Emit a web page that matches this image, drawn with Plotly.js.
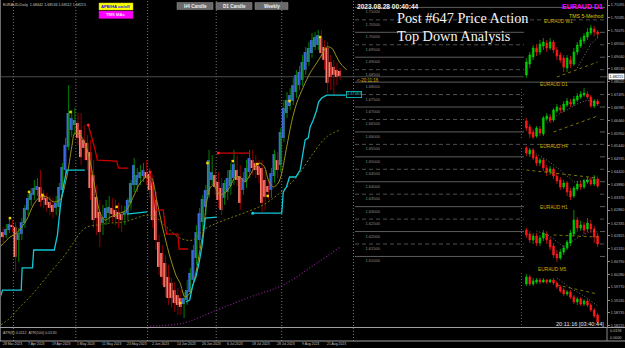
<!DOCTYPE html>
<html><head><meta charset="utf-8">
<script src="https://cdn.plot.ly/plotly-3.0.1.min.js"></script>
<style>html,body{margin:0;padding:0;background:#000;}#chart{width:625px;height:348px;}</style>
</head><body><div id="chart"></div>
<script>
const W = 625, H = 348;
const fx = x => x / W, fy = y => 1 - y / H;

// ---------- main chart (EURAUD Daily, Heikin-Ashi bodies) ----------
const dateLabels = ["28 Mar 2023","7 Apr 2023","19 Apr 2023","1 May 2023","11 May 2023","23 May 2023","2 Jun 2023","14 Jun 2023","26 Jun 2023","6 Jul 2023","18 Jul 2023","28 Jul 2023","9 Aug 2023","21 Aug 2023"];
const dateIdx = [0,8,16,24,32,40,48,56,64,72,80,88,96,104];
const monthSeparators = [3.5,23.5,46.5,68.5,89.5,112.5];

const haOpen = [1.6198,1.6186,1.6206,1.6226,1.6218,1.6166,1.6190,1.6234,1.6287,1.6327,1.6347,1.6367,1.6379,1.6347,1.6335,1.6319,1.6307,1.6295,1.6299,1.6367,1.6447,1.6540,1.6608,1.6628,1.6636,1.6608,1.6568,1.6556,1.6519,1.6427,1.6339,1.6279,1.6234,1.6254,1.6274,1.6295,1.6287,1.6279,1.6270,1.6266,1.6274,1.6315,1.6387,1.6387,1.6415,1.6423,1.6439,1.6431,1.6399,1.6327,1.6158,1.6114,1.6074,1.6018,1.5994,1.5965,1.5945,1.5933,1.5909,1.5925,1.5957,1.6006,1.6094,1.6166,1.6238,1.6299,1.6347,1.6407,1.6427,1.6399,1.6375,1.6335,1.6359,1.6383,1.6415,1.6447,1.6423,1.6367,1.6399,1.6439,1.6487,1.6475,1.6463,1.6455,1.6407,1.6383,1.6367,1.6423,1.6487,1.6467,1.6576,1.6676,1.6704,1.6724,1.6760,1.6788,1.6809,1.6849,1.6881,1.6917,1.6941,1.6949,1.6977,1.6941,1.6937,1.6881,1.6861,1.6849,1.6845];
const haClose = [1.6178,1.6210,1.6230,1.6218,1.6098,1.6194,1.6238,1.6295,1.6335,1.6355,1.6375,1.6383,1.6319,1.6327,1.6307,1.6295,1.6279,1.6315,1.6379,1.6459,1.6548,1.6676,1.6656,1.6648,1.6576,1.6499,1.6536,1.6487,1.6375,1.6246,1.6254,1.6198,1.6258,1.6295,1.6299,1.6270,1.6258,1.6250,1.6246,1.6279,1.6327,1.6395,1.6467,1.6427,1.6439,1.6447,1.6415,1.6367,1.6246,1.6166,1.6058,1.6018,1.5977,1.5933,1.5933,1.5913,1.5905,1.5897,1.5933,1.5965,1.6034,1.6126,1.6198,1.6274,1.6331,1.6367,1.6487,1.6439,1.6379,1.6327,1.6287,1.6395,1.6415,1.6447,1.6471,1.6407,1.6315,1.6415,1.6455,1.6495,1.6455,1.6447,1.6427,1.6315,1.6339,1.6359,1.6435,1.6511,1.6447,1.6600,1.6696,1.6728,1.6748,1.6788,1.6829,1.6841,1.6881,1.6921,1.6937,1.6969,1.6981,1.6989,1.6917,1.6889,1.6797,1.6821,1.6829,1.6821,1.6825];
const barHigh = [1.6218,1.6230,1.6254,1.6246,1.6238,1.6214,1.6254,1.6307,1.6351,1.6375,1.6407,1.6415,1.6447,1.6367,1.6355,1.6343,1.6335,1.6343,1.6395,1.6475,1.6576,1.6788,1.6688,1.6696,1.6676,1.6676,1.6628,1.6588,1.6568,1.6487,1.6387,1.6327,1.6307,1.6327,1.6343,1.6335,1.6327,1.6315,1.6307,1.6303,1.6335,1.6407,1.6495,1.6455,1.6467,1.6475,1.6487,1.6455,1.6427,1.6359,1.6186,1.6146,1.6106,1.6066,1.6014,1.5998,1.5973,1.5965,1.5957,1.6006,1.6054,1.6146,1.6226,1.6295,1.6347,1.6387,1.6528,1.6507,1.6455,1.6439,1.6415,1.6407,1.6447,1.6475,1.6528,1.6507,1.6467,1.6439,1.6487,1.6528,1.6528,1.6507,1.6487,1.6487,1.6447,1.6407,1.6455,1.6528,1.6519,1.6616,1.6728,1.6760,1.6776,1.6817,1.6849,1.6865,1.6909,1.6941,1.6961,1.6997,1.7001,1.7009,1.7009,1.6969,1.6961,1.6909,1.6889,1.6877,1.6857];
const barLow = [1.6158,1.6174,1.6194,1.6198,1.6038,1.6078,1.6166,1.6214,1.6266,1.6303,1.6327,1.6343,1.6299,1.6295,1.6279,1.6266,1.6254,1.6266,1.6279,1.6339,1.6427,1.6527,1.6580,1.6588,1.6548,1.6467,1.6487,1.6447,1.6327,1.6214,1.6186,1.6138,1.6186,1.6226,1.6238,1.6238,1.6226,1.6214,1.6198,1.6226,1.6246,1.6287,1.6359,1.6359,1.6387,1.6399,1.6387,1.6335,1.6214,1.6126,1.6026,1.5986,1.5937,1.5905,1.5897,1.5877,1.5865,1.5865,1.5853,1.5905,1.5933,1.5986,1.6066,1.6134,1.6206,1.6266,1.6335,1.6387,1.6347,1.6295,1.6266,1.6307,1.6327,1.6347,1.6387,1.6383,1.6287,1.6347,1.6375,1.6415,1.6427,1.6415,1.6395,1.6279,1.6287,1.6327,1.6335,1.6395,1.6415,1.6439,1.6560,1.6656,1.6688,1.6708,1.6736,1.6768,1.6784,1.6829,1.6865,1.6897,1.6929,1.6929,1.6897,1.6849,1.6756,1.6768,1.6748,1.6788,1.6809];

// indicator lines (bar index, price)
const cyanX = [-0.7,0,6,6.3,9.6,10,16.6,17.6,18.6,19.6,20.6,26.4,null,39.8,46.3,null,58.8,60,61,62,63,64,65,68.7,null,80.2,89.5,90,91,92,94,95.4,96,97,98,98.6,99.6,100.7,101.3,102.3,103.9,110];
const cyanY = [1.5937,1.5965,1.5965,1.6054,1.6054,1.6126,1.6126,1.6186,1.6307,1.6387,1.6447,1.6447,null,1.6270,1.6279,null,1.5917,1.5925,1.5986,1.6018,1.6074,1.6146,1.6254,1.6258,null,1.6274,1.6274,1.6359,1.6379,1.6419,1.6419,1.6447,1.6499,1.6568,1.6576,1.6620,1.6648,1.6688,1.6720,1.6736,1.6748,1.6748];
const redX = [27.5,28.6,29.7,30.4,36.6,37.2,40.3,null,47.3,48.3,49.1,51.5,52,52.6,56.2,56.6,59.5,null,69.2,79.3];
const redY = [1.6628,1.6580,1.6527,1.6487,1.6483,1.6455,1.6455,null,1.6439,1.6367,1.6287,1.6287,1.6234,1.6190,1.6190,1.6130,1.6130,null,1.6515,1.6515];
const fastMaX = [-0.8,2.4,4.5,7.7,9.9,12,14.2,16.3,18.4,20.6,22.2,23.2,24.8,26.4,28,29.6,31.3,32.9,34.5,37.7,39.8,41.9,44.1,46.2,47.8,49.4,51.5,53.7,55.8,56.9,58.5,60.1,61.7,63.3,64.4,65.4,66.5,67.6,68.6,69.7,71.3,72.9,74.6,76.1,77.7,79.3,80.9,82.5,84,85.2,86.8,88.4,89.5,91.1,92.8,94.3,96.4,98.6,100.7,102.3,103.9,105.5,107.1,108.2,110.3];
const fastMaY = [1.6138,1.6178,1.6194,1.6246,1.6307,1.6339,1.6339,1.6319,1.6327,1.6419,1.6540,1.6596,1.6588,1.6556,1.6487,1.6379,1.6274,1.6246,1.6258,1.6274,1.6287,1.6339,1.6395,1.6419,1.6415,1.6327,1.6206,1.6098,1.6018,1.5994,1.5937,1.5953,1.6018,1.6126,1.6206,1.6315,1.6375,1.6387,1.6367,1.6347,1.6355,1.6379,1.6419,1.6419,1.6399,1.6427,1.6459,1.6475,1.6459,1.6407,1.6379,1.6395,1.6435,1.6540,1.6648,1.6716,1.6780,1.6837,1.6877,1.6909,1.6941,1.6937,1.6901,1.6877,1.6849];
const slowMaX = [-0.5,2.4,5.6,9.9,15.2,19.5,22.7,24.8,27,30.2,34.5,38.7,43,46.2,49.4,52.6,56.9,61,64.3,68.7,72.9,78.3,83.6,88.9,94.3,99.6,103.9,108.2];
const slowMaY = [1.5825,1.5853,1.5897,1.5953,1.6034,1.6098,1.6154,1.6194,1.6218,1.6226,1.6234,1.6238,1.6254,1.6266,1.6254,1.6218,1.6174,1.6166,1.6206,1.6234,1.6254,1.6279,1.6307,1.6355,1.6419,1.6515,1.6580,1.6608];
const longMaX = [47.3,58,68.7,79.3,90,100.8,108.2];
const longMaY = [1.5820,1.5833,1.5885,1.5937,1.5986,1.6074,1.6138];
const fractalX = [2.4,8.5,12.8,21.8,36.6,57,65.7,73.8,81.7,85,92,101.8];
const fractalY = [1.6254,1.6359,1.6347,1.6680,1.6299,1.5913,1.6475,1.6483,1.6471,1.6343,1.6724,1.6981];
const stopDotX = [27.5,47.3,69.2];
const stopDotY = [1.6628,1.6439,1.6515];

const priceTicks = ["1.71095","1.70585","1.70075","1.69550","1.69040","1.68530","1.68020","1.67495","1.66985","1.66460","1.65950","1.65440","1.64935","1.64420","1.63880","1.63370","1.62860","1.62335","1.61825","1.61310","1.60790","1.60280","1.59770","1.59245","1.58735","1.58225"];
const levelLabels = ["1.71000","1.70500","1.70000","1.69500","1.69000","1.68500","1.68000","1.67500","1.67000","1.66500","1.66000","1.65500","1.65000","1.64500","1.64000","1.63500","1.63000","1.62500","1.62000","1.61500","1.61000"];
const bidPrice = 1.68215;
const stopPrice = 1.67483;

// ---------- mini top-down panels ----------
const miniIdx = [0,1,2,3,4,5,6,7,8,9,10,11,12,13,14,15,16,17,18,19,20,21];
const w1O = [1.657,1.668,1.675,1.684,1.680,1.686,1.689,1.684,1.690,1.682,1.677,1.674,1.664,1.672,1.668,1.680,1.686,1.691,1.695,1.699,1.703,1.700];
const w1C = [1.670,1.677,1.684,1.680,1.688,1.690,1.684,1.690,1.682,1.676,1.672,1.665,1.674,1.668,1.680,1.687,1.692,1.696,1.700,1.704,1.700,1.698];
const w1H = [1.674,1.680,1.687,1.688,1.692,1.694,1.692,1.694,1.692,1.685,1.680,1.677,1.677,1.676,1.684,1.690,1.695,1.699,1.704,1.707,1.706,1.702];
const w1L = [1.654,1.664,1.672,1.676,1.677,1.682,1.680,1.682,1.679,1.672,1.669,1.660,1.660,1.664,1.666,1.677,1.684,1.688,1.692,1.697,1.696,1.694];
const d1O = [1.6820,1.6790,1.6765,1.6745,1.6780,1.6755,1.6830,1.6840,1.6825,1.6870,1.6885,1.6875,1.6900,1.6915,1.6905,1.6925,1.6940,1.6950,1.6955,1.6940,1.6895,1.6920];
const d1C = [1.6785,1.6755,1.6740,1.6785,1.6760,1.6835,1.6845,1.6825,1.6875,1.6890,1.6875,1.6905,1.6920,1.6905,1.6930,1.6945,1.6955,1.6960,1.6940,1.6895,1.6920,1.6905];
const d1H = [1.6835,1.6805,1.6780,1.6795,1.6795,1.6845,1.6860,1.6855,1.6885,1.6905,1.6900,1.6920,1.6935,1.6930,1.6945,1.6960,1.6970,1.6985,1.6970,1.6950,1.6930,1.6930];
const d1L = [1.6770,1.6735,1.6730,1.6735,1.6745,1.6745,1.6820,1.6810,1.6815,1.6860,1.6860,1.6865,1.6890,1.6890,1.6895,1.6915,1.6930,1.6940,1.6930,1.6885,1.6885,1.6895];
const h4O = [1.6944,1.6932,1.6940,1.6926,1.6914,1.6920,1.6904,1.6896,1.6902,1.6888,1.6880,1.6866,1.6874,1.6858,1.6848,1.6862,1.6872,1.6866,1.6876,1.6880,1.6872,1.6882];
const h4C = [1.6934,1.6940,1.6924,1.6914,1.6920,1.6904,1.6896,1.6902,1.6888,1.6878,1.6866,1.6874,1.6856,1.6846,1.6864,1.6872,1.6866,1.6878,1.6880,1.6872,1.6882,1.6868];
const h4H = [1.6948,1.6944,1.6944,1.6930,1.6924,1.6924,1.6910,1.6908,1.6906,1.6894,1.6886,1.6880,1.6878,1.6864,1.6868,1.6878,1.6878,1.6882,1.6886,1.6886,1.6890,1.6886];
const h4L = [1.6928,1.6926,1.6920,1.6908,1.6908,1.6898,1.6888,1.6890,1.6882,1.6872,1.6860,1.6862,1.6848,1.6840,1.6844,1.6858,1.6860,1.6862,1.6872,1.6868,1.6868,1.6864];
const h1O = [1.6855,1.6851,1.6845,1.6849,1.6842,1.6847,1.6851,1.6845,1.6839,1.6831,1.6827,1.6833,1.6837,1.6842,1.6851,1.6865,1.6857,1.6860,1.6856,1.6861,1.6856,1.6849];
const h1C = [1.6850,1.6845,1.6849,1.6842,1.6847,1.6852,1.6845,1.6838,1.6830,1.6827,1.6833,1.6837,1.6843,1.6852,1.6865,1.6857,1.6860,1.6855,1.6862,1.6856,1.6848,1.6841];
const h1H = [1.6857,1.6854,1.6852,1.6852,1.6850,1.6855,1.6854,1.6848,1.6842,1.6835,1.6836,1.6840,1.6845,1.6855,1.6875,1.6868,1.6864,1.6863,1.6867,1.6865,1.6859,1.6852];
const h1L = [1.6847,1.6842,1.6841,1.6839,1.6839,1.6844,1.6841,1.6835,1.6827,1.6823,1.6825,1.6830,1.6835,1.6839,1.6849,1.6853,1.6854,1.6851,1.6853,1.6852,1.6842,1.6838];
const m5O = [1.6842,1.68455,1.6842,1.6843,1.6844,1.6843,1.6844,1.6843,1.6844,1.68425,1.68405,1.6839,1.6837,1.6838,1.68355,1.6833,1.68345,1.6832,1.68335,1.68315,1.6829,1.68265];
const m5C = [1.68455,1.6842,1.68435,1.6844,1.6843,1.6844,1.6843,1.6844,1.68425,1.68405,1.68385,1.6837,1.6838,1.68355,1.6833,1.68345,1.6832,1.68335,1.68315,1.6829,1.6826,1.6823];
const m5H = [1.6847,1.68465,1.6845,1.6845,1.6845,1.6845,1.68445,1.68445,1.6845,1.68435,1.68415,1.6840,1.6839,1.6839,1.68365,1.68355,1.68355,1.68345,1.68345,1.68325,1.6830,1.68275];
const m5L = [1.6841,1.6841,1.6841,1.6842,1.6842,1.68425,1.6842,1.68425,1.68415,1.68395,1.68375,1.6836,1.6836,1.68345,1.6832,1.68315,1.6831,1.6831,1.68305,1.6828,1.6825,1.6822];

const miniSlow = {
  w1: {x:[9,21], y:[1.655,1.670]},
  d1: {x:[8,21], y:[1.6765,1.6845]},
  h4: {x:[0,21], y:[1.6900,1.6884]},
  h1: {x:[8,21], y:[1.6850,1.6848]},
  m5: {x:[9,21], y:[1.68415,1.6837]}
};
const miniTrail = {
  w1: {x:[15,17,19,21], y:[1.664,1.676,1.688,1.694]},
  d1: {x:[6,9,12,15,18,21], y:[1.6810,1.6850,1.6875,1.6905,1.6925,1.6910]},
  h4: {x:[2,6,10,14,18,21], y:[1.6936,1.6920,1.6900,1.6876,1.6880,1.6888]},
  h1: {x:[3,7,11,15,19,21], y:[1.6854,1.6849,1.6838,1.6847,1.6854,1.6853]},
  m5: {x:[9,13,17,21], y:[1.6845,1.6840,1.6836,1.6831]}
};

// ---------- build traces ----------
const idx = haOpen.map((_, i) => i);
const gx = [], gy = [], rx = [], ry = [];
idx.forEach(i => {
  const up = haClose[i] >= haOpen[i];
  (up ? gx : rx).push(i + 0.2, i + 0.2, null);
  (up ? gy : ry).push(barHigh[i], barLow[i], null);
});
const bodyBase = idx.map(i => Math.min(haOpen[i], haClose[i]));
const bodyLen = idx.map(i => Math.max(Math.abs(haClose[i] - haOpen[i]), 0.0003));
const bodyCol = idx.map(i => haClose[i] >= haOpen[i] ? '#4169e1' : '#fa8072');

const traces = [
  {type:'scatter', mode:'lines', x:gx, y:gy, line:{color:'#009000', width:0.9}, hoverinfo:'skip'},
  {type:'scatter', mode:'lines', x:rx, y:ry, line:{color:'#a00000', width:0.9}, hoverinfo:'skip'},
  {type:'bar', x:idx, base:bodyBase, y:bodyLen, width:0.95, marker:{color:bodyCol, line:{width:0}}, hoverinfo:'skip'},
  {type:'scatter', mode:'lines', x:longMaX, y:longMaY, line:{color:'#8a2090', width:1.2, dash:'1px,2px', shape:'spline'}},
  {type:'scatter', mode:'lines', x:slowMaX, y:slowMaY, line:{color:'#7c7a08', width:1, dash:'2px,2px', shape:'spline'}},
  {type:'scatter', mode:'lines', x:fastMaX, y:fastMaY, line:{color:'#9a9214', width:1, shape:'spline', smoothing:0.8}},
  {type:'scatter', mode:'lines', x:redX, y:redY, line:{color:'#cc0000', width:1.3}},
  {type:'scatter', mode:'lines', x:cyanX, y:cyanY, line:{color:'#12c8d8', width:1.3}},
  {type:'scatter', mode:'markers', x:stopDotX, y:stopDotY, marker:{color:'#ff2020', size:3}},
  {type:'scatter', mode:'markers', x:[80.2], y:[1.6274], marker:{color:'#12c8d8', size:3}},
  {type:'scatter', mode:'markers', x:fractalX, y:fractalY, marker:{color:'#ffd000', size:2.5, symbol:'square'}}
];

const panels = [
  {k:'w1', o:w1O, c:w1C, h:w1H, l:w1L, yd:[22,78], yr:[1.654,1.710]},
  {k:'d1', o:d1O, c:d1C, h:d1H, l:d1L, yd:[85,140], yr:[1.6725,1.7000]},
  {k:'h4', o:h4O, c:h4C, h:h4H, l:h4L, yd:[145,200], yr:[1.6840,1.6950]},
  {k:'h1', o:h1O, c:h1C, h:h1H, l:h1L, yd:[205,265], yr:[1.6820,1.6880]},
  {k:'m5', o:m5O, c:m5C, h:m5H, l:m5L, yd:[268,325], yr:[1.68215,1.6850]}
];

const layout = {
  width:W, height:H, margin:{l:0,r:0,t:0,b:0},
  paper_bgcolor:'#000', plot_bgcolor:'#000', showlegend:false, hovermode:false, dragmode:false,
  barmode:'overlay',
  xaxis:{domain:[0,607/W], range:[-0.8013,193.75], visible:false, fixedrange:true, rangeslider:{visible:false}},
  yaxis:{domain:[21/H,1], range:[1.58168,1.71297], side:'right', anchor:'x',
    tickvals:priceTicks.map(Number), ticktext:priceTicks,
    tickfont:{family:'Liberation Sans', size:3.8, color:'#b8b8b8'},
    ticks:'outside', ticklen:2, tickcolor:'#8a8a8a', showline:true, linecolor:'#8a8a8a', linewidth:1,
    showgrid:false, zeroline:false, fixedrange:true},
  shapes:[], annotations:[]
};

panels.forEach((p, n) => {
  const a = n + 2;
  layout['xaxis' + a] = {domain:[524/W, 600/W], range:[-0.7, 21.7], visible:false, anchor:'y' + a, fixedrange:true, rangeslider:{visible:false}};
  layout['yaxis' + a] = {domain:[fy(p.yd[1]), fy(p.yd[0])], range:p.yr, visible:false, anchor:'x' + a, fixedrange:true};
  traces.push({type:'scatter', mode:'lines', x:miniSlow[p.k].x, y:miniSlow[p.k].y, xaxis:'x'+a, yaxis:'y'+a, line:{color:'#8a8200', width:0.9, dash:'dot'}});
  traces.push({type:'scatter', mode:'lines', x:miniTrail[p.k].x, y:miniTrail[p.k].y, xaxis:'x'+a, yaxis:'y'+a, line:{color:'#a8a8a8', width:0.7, dash:'1px,2px'}});
  traces.push({type:'candlestick', x:miniIdx, open:p.o, high:p.h, low:p.l, close:p.c, xaxis:'x'+a, yaxis:'y'+a,
    whiskerwidth:0,
    increasing:{line:{color:'#00cc00', width:0.7}, fillcolor:'#00cc00'},
    decreasing:{line:{color:'#ff1a1a', width:0.7}, fillcolor:'#ff1a1a'}, hoverinfo:'skip'});
});

const S = layout.shapes, A = layout.annotations;
const font = (size, color, extra) => Object.assign({family:'Liberation Sans', size:size, color:color}, extra || {});
function txt(text, x, y, size, color, opt) {
  opt = opt || {};
  A.push({xref:'paper', yref:'paper', x:fx(x), y:fy(y), text:text, showarrow:false,
    xanchor:opt.xa || 'left', yanchor:'middle', font:font(size, color, opt.f), bgcolor:opt.bg, bordercolor:opt.bc, borderwidth:opt.bw || 0, borderpad:opt.bp === undefined ? 1 : opt.bp});
}

// window frame / separators
S.push({type:'line', xref:'paper', yref:'paper', x0:fx(0.5), x1:fx(0.5), y0:fy(341), y1:1, line:{color:'#6a6a6a', width:1}});
S.push({type:'line', xref:'paper', yref:'paper', x0:0, x1:1, y0:fy(327.5), y1:fy(327.5), line:{color:'#a0a0a0', width:1}});
S.push({type:'line', xref:'paper', yref:'paper', x0:0, x1:1, y0:fy(341), y1:fy(341), line:{color:'#a0a0a0', width:1}});
S.push({type:'line', xref:'paper', yref:'paper', x0:fx(607), x1:fx(607), y0:fy(341), y1:fy(327), line:{color:'#8a8a8a', width:1}});

monthSeparators.forEach(m => S.push({type:'line', xref:'x', yref:'paper', x0:m, x1:m, y0:fy(341), y1:1, layer:'below', line:{color:'#767676', width:1, dash:'1px,2px'}}));

// bid line
S.push({type:'line', xref:'x', yref:'y', x0:-0.8, x1:193.75, y0:bidPrice, y1:bidPrice, layer:'below', line:{color:'#5e5e5e', width:0.8}});

// price level grid of the overlay area
levelLabels.forEach(s => {
  const v = Number(s);
  const solid = Math.round(v * 1000) % 10 === 0;
  S.push({type:'line', xref:'paper', yref:'y', x0:fx(355), x1:fx(605), y0:v, y1:v, layer:'below', line:{color: solid ? '#5c5c5c' : '#4e4e4e', width:1, dash: solid ? 'solid' : '4px,3px'}});
  A.push({xref:'paper', yref:'y', x:fx(364), y:v, text:s, showarrow:false, xanchor:'left', yanchor:'top', borderpad:0.5, font:font(4, '#8e8e8e')});
});

// mini panel separators
[[87,138],[146,200],[205,263],[272,325]].forEach(r => S.push({type:'line', xref:'paper', yref:'paper', x0:fx(521.5), x1:fx(521.5), y0:fy(r[1]), y1:fy(r[0]), line:{color:'#5a5a5a', width:1, dash:'1px,2px'}}));

// buttons
S.push({type:'rect', xref:'paper', yref:'paper', x0:fx(99), x1:fx(133), y0:fy(10), y1:fy(3), fillcolor:'#ffff00', line:{color:'#c0c000', width:0.5}});
S.push({type:'rect', xref:'paper', yref:'paper', x0:fx(99), x1:fx(133), y0:fy(18.5), y1:fy(11), fillcolor:'#ff00ff', line:{color:'#c000c0', width:0.5}});
[[177,213,'H4 Candle'],[216,252,'D1 Candle'],[255,288,'Weekly']].forEach(b => {
  S.push({type:'rect', xref:'paper', yref:'paper', x0:fx(b[0]), x1:fx(b[1]), y0:fy(9.5), y1:fy(2.5), fillcolor:'#6a6a6a', line:{color:'#909090', width:0.5}});
  txt(b[2], (b[0] + b[1]) / 2, 6, 4.6, '#f0f0f0', {xa:'center', f:{weight:'bold'}});
});
txt('APB/HA on/off', 116, 6.5, 4.2, '#1010e0', {xa:'center', f:{weight:'bold'}});
txt('TMS MAs', 116, 14.8, 4.2, '#ffe6ff', {xa:'center', f:{weight:'bold'}});

// texts
txt('EURAUD,Daily  1.68442 1.68534 1.68112 1.68215', 2, 4.5, 3.7, '#c8c8c8');
txt('2023.08.28 00:40:44', 356, 6, 6.6, '#f0f0f0', {f:{weight:'bold'}});
txt('Post #647 Price Action', 396, 18.5, 14.3, '#f4f4f4', {f:{family:'Liberation Serif'}});
txt('Top Down Analysis', 396, 36.5, 14.3, '#f4f4f4', {f:{family:'Liberation Serif'}});
txt('EURAUD D1', 604, 7, 7, '#ff00ff', {xa:'right', f:{weight:'bold'}});
txt('TMS 5-Method', 604, 16, 5.2, '#d8c800', {xa:'right'});
txt('EURAUD W1', 558, 22, 4.8, '#c8b400', {xa:'center'});
txt('EURAUD D1', 554, 84, 4.8, '#c8b400', {xa:'center'});
txt('EURAUD H4', 554, 146, 4.8, '#c8b400', {xa:'center'});
txt('EURAUD H1', 554, 207.5, 4.8, '#c8b400', {xa:'center'});
txt('EURAUD M5', 552, 269.5, 4.8, '#c8b400', {xa:'center'});
txt('20:11:16 [03:40:44]', 605, 324, 5.6, '#e4e4e4', {xa:'right'});
txt('&lt;-20:11:16', 356, 81, 4.5, '#e0a800');
txt('ATR(8) 0.0112  ATR(100) 0.0130', 2, 332.5, 3.7, '#bdbdbd');
txt('0.0196', 609, 331, 3.8, '#b8b8b8');
txt('0.0000', 609, 338, 3.8, '#b8b8b8');
// price boxes
A.push({xref:'x', yref:'y', x:110.2, y:stopPrice, text:stopPrice.toFixed(5), showarrow:false, xanchor:'left', yanchor:'middle', font:font(3.8, '#12c8d8'), bgcolor:'#000', bordercolor:'#12c8d8', borderwidth:0.8, borderpad:0.5});
A.push({xref:'paper', yref:'y', x:fx(607.5), y:bidPrice, text:bidPrice.toFixed(5), showarrow:false, xanchor:'left', yanchor:'middle', font:font(3.8, '#000'), bgcolor:'#ffffff', borderpad:0.6});

// date labels
dateLabels.forEach((d, k) => A.push({xref:'x', yref:'paper', x:dateIdx[k] - 0.3, y:fy(343.5), text:d, showarrow:false, xanchor:'left', yanchor:'middle', borderpad:0, font:font(3.4, '#c4c4c4')}));

Plotly.newPlot('chart', traces, layout, {staticPlot:true, displayModeBar:false});
</script></body></html>
